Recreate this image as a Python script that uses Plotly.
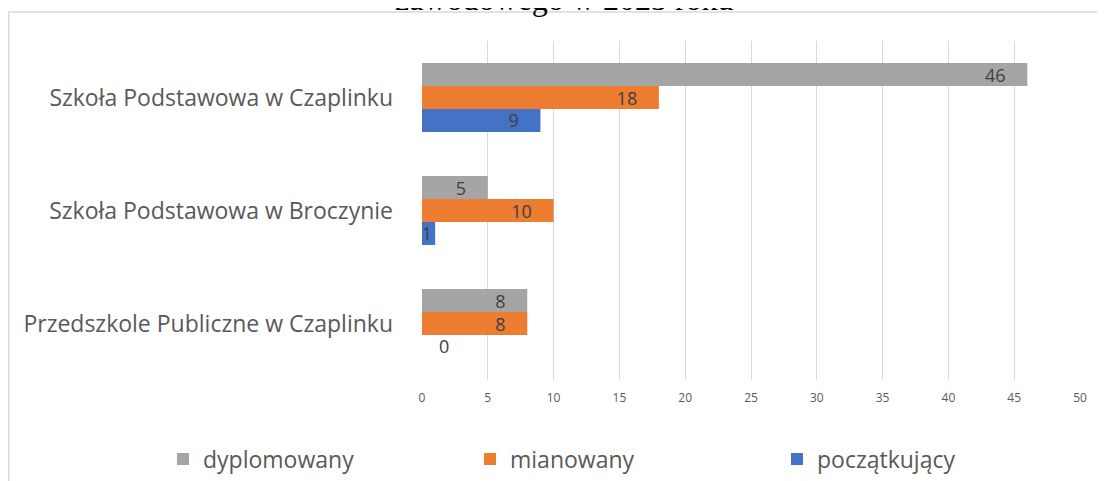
import plotly.graph_objects as go

categories = ["Szkoła Podstawowa w Czaplinku", "Szkoła Podstawowa w Broczynie", "Przedszkole Publiczne w Czaplinku"]
series_names = ["dyplomowany", "mianowany", "początkujący"]
dyplomowany = [46, 5, 8]
mianowany = [18, 10, 8]
poczatkujacy = [9, 1, 0]
x_ticks = [0, 5, 10, 15, 20, 25, 30, 35, 40, 45, 50]
title_text = "zawodowego w 2023 roku"

colors = ["#a5a5a5", "#ed7d31", "#4472c4"]
values = [dyplomowany, mianowany, poczatkujacy]

# the page body has an 8px margin, so figure coords = page coords - 8
W, H = 1097, 490
L, R, T, B = 414, 1072, 33, 372
PAD = "\u00a0" * 4
FONT = "Open Sans"

fig = go.Figure()
for name, vals, col in zip(series_names, values, colors):
    texts = []
    for v in vals:
        if v == 0:
            texts.append("\u00a0\u00a0\u00a0" + f"{v}")
        elif v >= 3:
            texts.append(f"{v}" + PAD)
        else:
            texts.append(f"{v}")
    pos = ["inside" if v > 0 else "outside" for v in vals]
    lab = dict(family=FONT, size=18, color="#404040")
    fig.add_trace(go.Bar(
        y=categories, x=vals, name=name, orientation="h",
        marker=dict(color=col, line=dict(width=0)),
        text=texts, textposition=pos, insidetextanchor="end",
        constraintext="none", cliponaxis=False,
        textfont=lab, insidetextfont=lab, outsidetextfont=lab,
    ))

def px_x(p):
    return (p - L) / (R - L)

def px_y(p):
    return (B - p) / (B - T)

border = dict(color="#d9d9d9", width=1.5)

fig.update_layout(
    width=W, height=H,
    margin=dict(l=L, r=W - R, t=T, b=H - B, pad=0, autoexpand=False),
    paper_bgcolor="white", plot_bgcolor="white",
    barmode="group", bargap=0.39, bargroupgap=0,
    showlegend=True,
    legend=dict(
        orientation="h", x=px_x(155), y=px_y(429.5), xanchor="left", yanchor="top",
        entrywidth=262, entrywidthmode="pixels",
        font=dict(family=FONT, size=23, color="#595959"),
        traceorder="normal", bgcolor="rgba(0,0,0,0)",
    ),
    xaxis=dict(
        range=[0, 50], tickvals=x_ticks, showgrid=True, gridcolor="#d9d9d9", gridwidth=1.3,
        zeroline=False, showline=False, ticks="outside", ticklen=7, tickcolor="rgba(0,0,0,0)",
        tickfont=dict(family=FONT, size=12, color="#595959"),
    ),
    yaxis=dict(
        categoryorder="array", categoryarray=categories, autorange="reversed",
        showgrid=False, zeroline=False, showline=False, ticks="",
        ticklabelstandoff=28,
        tickfont=dict(family=FONT, size=23, color="#595959"),
    ),
    annotations=[dict(
        text=title_text, xref="paper", yref="paper", x=px_x(556), y=px_y(11),
        xanchor="center", yanchor="bottom", showarrow=False,
        font=dict(family="Liberation Serif", size=32, color="#000000"),
    )],
    shapes=[
        dict(type="line", xref="paper", yref="paper",
             x0=px_x(0), x1=px_x(W), y0=px_y(4), y1=px_y(4), line=border, layer="below"),
        dict(type="line", xref="paper", yref="paper",
             x0=px_x(0.75), x1=px_x(0.75), y0=px_y(4), y1=px_y(H), line=border, layer="below"),
    ],
)

fig.write_html("out.html")
